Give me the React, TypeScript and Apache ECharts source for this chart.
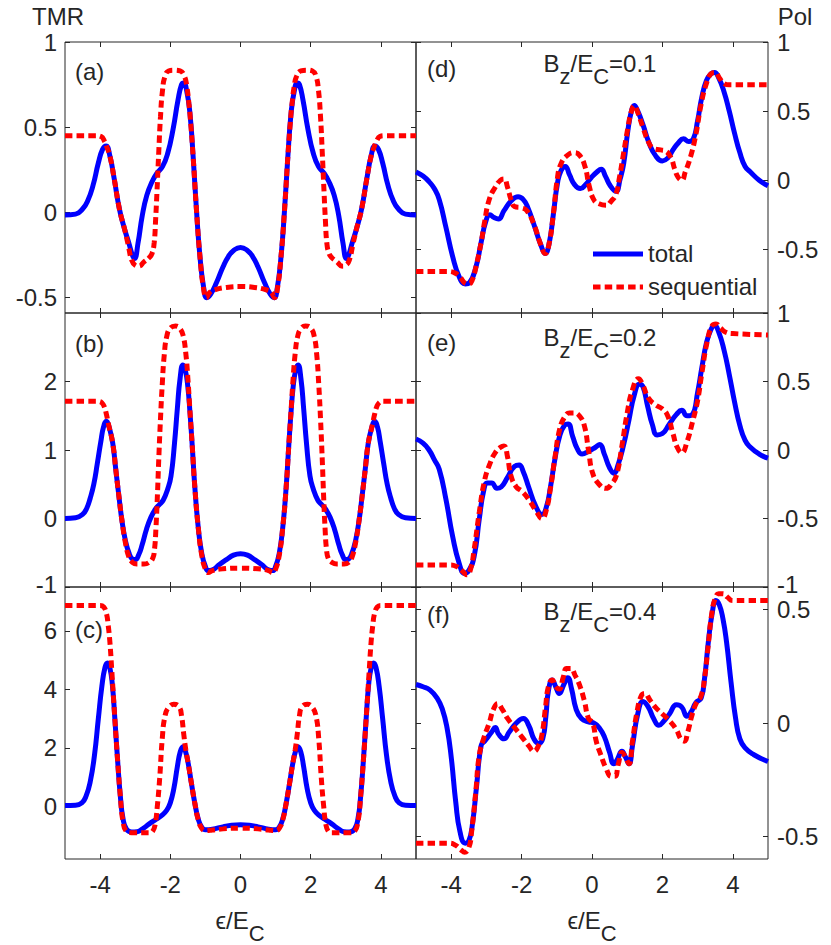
import React, { useEffect, useRef } from 'react';
import * as echarts from 'echarts';

type Pt = [number, number];

const X_TICKS = [-4, -2, 0, 2, 4];
const Y_TICKS_A = [-0.5, 0, 0.5, 1];
const Y_TICKS_B = [-1, 0, 1, 2];
const Y_TICKS_C = [0, 2, 4, 6];
const Y_TICKS_D = [-0.5, 0, 0.5, 1];
const Y_TICKS_E = [-1, -0.5, 0, 0.5, 1];
const Y_TICKS_F = [-0.5, 0, 0.5];

const PANEL_LETTERS = ['(a)', '(b)', '(c)', '(d)', '(e)', '(f)'];
const FIELD_VALUES = ['0.1', '0.2', '0.4'];
const LEGEND_NAMES = ['total', 'sequential'];

const A_TOTAL: Pt[] = [[-5, -0.015], [-4.7, -0.01], [-4.5, 0.02], [-4.35, 0.07], [-4.2, 0.16], [-4.05, 0.29], [-3.93, 0.37], [-3.83, 0.39], [-3.72, 0.33], [-3.6, 0.2], [-3.45, 0.02], [-3.3, -0.1], [-3.18, -0.18], [-3.08, -0.25], [-3.02, -0.27], [-2.92, -0.18], [-2.8, -0.02], [-2.67, 0.1], [-2.52, 0.18], [-2.38, 0.23], [-2.22, 0.27], [-2.07, 0.35], [-1.92, 0.49], [-1.78, 0.66], [-1.68, 0.75], [-1.62, 0.76], [-1.53, 0.71], [-1.44, 0.58], [-1.35, 0.33], [-1.25, 0.0], [-1.15, -0.27], [-1.05, -0.44], [-0.96, -0.5], [-0.85, -0.48], [-0.68, -0.41], [-0.5, -0.32], [-0.35, -0.26], [-0.18, -0.22], [0, -0.205],
  [0.18, -0.22], [0.35, -0.26], [0.5, -0.32], [0.68, -0.41], [0.85, -0.48], [0.96, -0.5], [1.05, -0.44], [1.15, -0.27], [1.25, 0.0], [1.35, 0.33], [1.44, 0.58], [1.53, 0.71], [1.62, 0.76], [1.68, 0.75], [1.78, 0.66], [1.92, 0.49], [2.07, 0.35], [2.22, 0.27], [2.38, 0.23], [2.52, 0.18], [2.67, 0.1], [2.8, -0.02], [2.92, -0.18], [3.02, -0.27], [3.08, -0.25], [3.18, -0.18], [3.3, -0.1], [3.45, 0.02], [3.6, 0.2], [3.72, 0.33], [3.83, 0.39], [3.93, 0.37], [4.05, 0.29], [4.2, 0.16], [4.35, 0.07], [4.5, 0.02], [4.7, -0.01], [5, -0.015]];

const A_SEQ: Pt[] = [[-5, 0.45], [-4.1, 0.45], [-3.97, 0.445], [-3.88, 0.42], [-3.8, 0.38], [-3.72, 0.33], [-3.6, 0.2], [-3.45, 0.02], [-3.3, -0.1], [-3.2, -0.19], [-3.1, -0.28], [-3.0, -0.31], [-2.9, -0.315], [-2.75, -0.29], [-2.6, -0.265], [-2.52, -0.24], [-2.46, -0.18], [-2.42, -0.05], [-2.38, 0.12], [-2.33, 0.35], [-2.28, 0.56], [-2.22, 0.72], [-2.15, 0.8], [-2.05, 0.83], [-1.9, 0.835], [-1.72, 0.83], [-1.6, 0.8], [-1.53, 0.74], [-1.47, 0.64], [-1.44, 0.58], [-1.35, 0.33], [-1.25, 0.0], [-1.15, -0.27], [-1.05, -0.45], [-0.97, -0.5], [-0.88, -0.47], [-0.75, -0.455], [-0.4, -0.44], [0, -0.435],
  [0.4, -0.44], [0.75, -0.455], [0.88, -0.47], [0.97, -0.5], [1.05, -0.45], [1.15, -0.27], [1.25, 0.0], [1.35, 0.33], [1.44, 0.58], [1.47, 0.64], [1.53, 0.74], [1.6, 0.8], [1.72, 0.83], [1.9, 0.835], [2.05, 0.83], [2.15, 0.8], [2.22, 0.72], [2.28, 0.56], [2.33, 0.35], [2.38, 0.12], [2.42, -0.05], [2.46, -0.18], [2.52, -0.24], [2.6, -0.265], [2.75, -0.29], [2.9, -0.315], [3.0, -0.31], [3.1, -0.28], [3.2, -0.19], [3.3, -0.1], [3.45, 0.02], [3.6, 0.2], [3.72, 0.33], [3.8, 0.38], [3.88, 0.42], [3.97, 0.445], [4.1, 0.45], [5, 0.45]];

const B_TOTAL: Pt[] = [[-5, 0.0], [-4.7, 0.01], [-4.5, 0.06], [-4.38, 0.15], [-4.28, 0.3], [-4.18, 0.5], [-4.08, 0.8], [-3.98, 1.12], [-3.9, 1.34], [-3.82, 1.42], [-3.74, 1.33], [-3.64, 1.1], [-3.55, 0.7], [-3.47, 0.35], [-3.38, -0.02], [-3.28, -0.32], [-3.18, -0.5], [-3.08, -0.59], [-3.0, -0.6], [-2.9, -0.53], [-2.8, -0.38], [-2.68, -0.16], [-2.55, 0.02], [-2.42, 0.14], [-2.3, 0.21], [-2.2, 0.27], [-2.08, 0.42], [-1.98, 0.62], [-1.88, 1.1], [-1.8, 1.6], [-1.72, 2.05], [-1.64, 2.24], [-1.57, 2.16], [-1.5, 1.92], [-1.44, 1.55], [-1.38, 1.1], [-1.3, 0.45], [-1.2, -0.15], [-1.1, -0.52], [-1.0, -0.7], [-0.92, -0.76], [-0.8, -0.75], [-0.6, -0.67], [-0.4, -0.6], [-0.2, -0.535], [0, -0.515],
  [0.2, -0.535], [0.4, -0.6], [0.6, -0.67], [0.8, -0.75], [0.92, -0.76], [1.0, -0.7], [1.1, -0.52], [1.2, -0.15], [1.3, 0.45], [1.38, 1.1], [1.44, 1.55], [1.5, 1.92], [1.57, 2.16], [1.64, 2.24], [1.72, 2.05], [1.8, 1.6], [1.88, 1.1], [1.98, 0.62], [2.08, 0.42], [2.2, 0.27], [2.3, 0.21], [2.42, 0.14], [2.55, 0.02], [2.68, -0.16], [2.8, -0.38], [2.9, -0.53], [3.0, -0.6], [3.08, -0.59], [3.18, -0.5], [3.28, -0.32], [3.38, -0.02], [3.47, 0.35], [3.55, 0.7], [3.64, 1.1], [3.74, 1.33], [3.82, 1.42], [3.9, 1.34], [3.98, 1.12], [4.08, 0.8], [4.18, 0.5], [4.28, 0.3], [4.38, 0.15], [4.5, 0.06], [4.7, 0.01], [5, 0.0]];

const B_SEQ: Pt[] = [[-5, 1.71], [-4.05, 1.71], [-3.95, 1.69], [-3.88, 1.63], [-3.82, 1.52], [-3.77, 1.4], [-3.74, 1.33], [-3.64, 1.1], [-3.55, 0.7], [-3.47, 0.35], [-3.38, -0.02], [-3.28, -0.35], [-3.18, -0.56], [-3.08, -0.64], [-2.95, -0.665], [-2.75, -0.665], [-2.6, -0.64], [-2.5, -0.58], [-2.45, -0.45], [-2.41, -0.15], [-2.37, 0.3], [-2.33, 0.85], [-2.28, 1.45], [-2.23, 1.95], [-2.17, 2.4], [-2.1, 2.66], [-2.0, 2.78], [-1.85, 2.81], [-1.72, 2.77], [-1.63, 2.66], [-1.56, 2.42], [-1.5, 2.05], [-1.45, 1.65], [-1.38, 1.1], [-1.3, 0.45], [-1.2, -0.15], [-1.1, -0.55], [-1.0, -0.74], [-0.92, -0.79], [-0.8, -0.76], [-0.5, -0.735], [0, -0.725],
  [0.5, -0.735], [0.8, -0.76], [0.92, -0.79], [1.0, -0.74], [1.1, -0.55], [1.2, -0.15], [1.3, 0.45], [1.38, 1.1], [1.45, 1.65], [1.5, 2.05], [1.56, 2.42], [1.63, 2.66], [1.72, 2.77], [1.85, 2.81], [2.0, 2.78], [2.1, 2.66], [2.17, 2.4], [2.23, 1.95], [2.28, 1.45], [2.33, 0.85], [2.37, 0.3], [2.41, -0.15], [2.45, -0.45], [2.5, -0.58], [2.6, -0.64], [2.75, -0.665], [2.95, -0.665], [3.08, -0.64], [3.18, -0.56], [3.28, -0.35], [3.38, -0.02], [3.47, 0.35], [3.55, 0.7], [3.64, 1.1], [3.74, 1.33], [3.77, 1.4], [3.82, 1.52], [3.88, 1.63], [3.95, 1.69], [4.05, 1.71], [5, 1.71]];

const C_TOTAL: Pt[] = [[-5, 0.03], [-4.7, 0.04], [-4.52, 0.12], [-4.4, 0.35], [-4.28, 0.85], [-4.16, 1.75], [-4.05, 3.0], [-3.95, 4.1], [-3.86, 4.75], [-3.79, 4.9], [-3.72, 4.72], [-3.65, 4.15], [-3.58, 3.0], [-3.5, 1.55], [-3.42, 0.3], [-3.35, -0.4], [-3.25, -0.78], [-3.1, -0.88], [-2.95, -0.87], [-2.8, -0.78], [-2.6, -0.6], [-2.4, -0.44], [-2.25, -0.32], [-2.1, -0.13], [-2.0, 0.12], [-1.9, 0.6], [-1.8, 1.35], [-1.72, 1.85], [-1.64, 2.04], [-1.56, 1.85], [-1.48, 1.4], [-1.4, 0.8], [-1.3, 0.1], [-1.2, -0.45], [-1.1, -0.72], [-1.0, -0.8], [-0.8, -0.78], [-0.5, -0.7], [-0.25, -0.645], [0, -0.63],
  [0.25, -0.645], [0.5, -0.7], [0.8, -0.78], [1.0, -0.8], [1.1, -0.72], [1.2, -0.45], [1.3, 0.1], [1.4, 0.8], [1.48, 1.4], [1.56, 1.85], [1.64, 2.04], [1.72, 1.85], [1.8, 1.35], [1.9, 0.6], [2.0, 0.12], [2.1, -0.13], [2.25, -0.32], [2.4, -0.44], [2.6, -0.6], [2.8, -0.78], [2.95, -0.87], [3.1, -0.88], [3.25, -0.78], [3.35, -0.4], [3.42, 0.3], [3.5, 1.55], [3.58, 3.0], [3.65, 4.15], [3.72, 4.72], [3.79, 4.9], [3.86, 4.75], [3.95, 4.1], [4.05, 3.0], [4.16, 1.75], [4.28, 0.85], [4.4, 0.35], [4.52, 0.12], [4.7, 0.04], [5, 0.03]];

const C_SEQ: Pt[] = [[-5, 6.87], [-4.0, 6.87], [-3.9, 6.82], [-3.82, 6.6], [-3.77, 6.2], [-3.72, 5.6], [-3.67, 4.7], [-3.62, 3.75], [-3.58, 3.0], [-3.5, 1.55], [-3.42, 0.3], [-3.35, -0.5], [-3.25, -0.85], [-3.1, -0.9], [-2.6, -0.9], [-2.5, -0.85], [-2.43, -0.6], [-2.37, 0.0], [-2.3, 1.0], [-2.23, 2.3], [-2.15, 3.1], [-2.05, 3.38], [-1.9, 3.49], [-1.75, 3.4], [-1.68, 3.1], [-1.62, 2.5], [-1.56, 1.95], [-1.48, 1.4], [-1.4, 0.8], [-1.3, 0.1], [-1.2, -0.48], [-1.1, -0.76], [-1.0, -0.83], [-0.8, -0.81], [-0.5, -0.77], [0, -0.745],
  [0.5, -0.77], [0.8, -0.81], [1.0, -0.83], [1.1, -0.76], [1.2, -0.48], [1.3, 0.1], [1.4, 0.8], [1.48, 1.4], [1.56, 1.95], [1.62, 2.5], [1.68, 3.1], [1.75, 3.4], [1.9, 3.49], [2.05, 3.38], [2.15, 3.1], [2.23, 2.3], [2.3, 1.0], [2.37, 0.0], [2.43, -0.6], [2.5, -0.85], [2.6, -0.9], [3.1, -0.9], [3.25, -0.85], [3.35, -0.5], [3.42, 0.3], [3.5, 1.55], [3.58, 3.0], [3.62, 3.75], [3.67, 4.7], [3.72, 5.6], [3.77, 6.2], [3.82, 6.6], [3.9, 6.82], [4.0, 6.87], [5, 6.87]];

const D_TOTAL: Pt[] = [[-5, 0.06], [-4.8, 0.03], [-4.63, -0.01], [-4.48, -0.06], [-4.34, -0.14], [-4.15, -0.34], [-3.96, -0.55], [-3.77, -0.7], [-3.6, -0.75], [-3.48, -0.74], [-3.3, -0.63], [-3.15, -0.45], [-3.02, -0.3], [-2.9, -0.25], [-2.78, -0.27], [-2.66, -0.28], [-2.5, -0.22], [-2.3, -0.15], [-2.1, -0.12], [-1.95, -0.14], [-1.82, -0.2], [-1.65, -0.32], [-1.45, -0.47], [-1.33, -0.53], [-1.22, -0.46], [-1.1, -0.25], [-0.98, -0.02], [-0.88, 0.07], [-0.76, 0.1], [-0.64, 0.04], [-0.5, -0.03], [-0.33, -0.06], [-0.18, -0.03], [-0.02, 0.02], [0.14, 0.06], [0.26, 0.08], [0.38, 0.03], [0.52, -0.04], [0.68, -0.08], [0.8, 0.01], [0.9, 0.12], [1.02, 0.36], [1.12, 0.5], [1.2, 0.54], [1.3, 0.5], [1.45, 0.4], [1.62, 0.27], [1.8, 0.18], [2.0, 0.14], [2.15, 0.16], [2.3, 0.22], [2.45, 0.27], [2.6, 0.3], [2.75, 0.28], [2.88, 0.3], [3.0, 0.43], [3.12, 0.6], [3.25, 0.72], [3.38, 0.77], [3.48, 0.78], [3.6, 0.74], [3.75, 0.64], [3.9, 0.5], [4.05, 0.34], [4.2, 0.2], [4.35, 0.1], [4.5, 0.06], [4.75, 0.0], [5, -0.04]];

const D_SEQ: Pt[] = [[-5, -0.66], [-4.1, -0.66], [-3.9, -0.67], [-3.75, -0.7], [-3.6, -0.745], [-3.5, -0.75], [-3.4, -0.72], [-3.3, -0.63], [-3.15, -0.45], [-3.05, -0.3], [-2.92, -0.14], [-2.75, -0.05], [-2.6, 0.0], [-2.5, 0.01], [-2.4, -0.05], [-2.3, -0.14], [-2.2, -0.19], [-2.0, -0.2], [-1.85, -0.22], [-1.65, -0.32], [-1.45, -0.47], [-1.33, -0.53], [-1.22, -0.46], [-1.1, -0.25], [-0.98, 0.02], [-0.88, 0.12], [-0.7, 0.18], [-0.5, 0.2], [-0.35, 0.18], [-0.2, 0.1], [-0.08, -0.04], [0.05, -0.14], [0.2, -0.17], [0.4, -0.18], [0.55, -0.15], [0.68, -0.1], [0.78, 0.02], [0.9, 0.2], [1.02, 0.38], [1.12, 0.5], [1.2, 0.54], [1.3, 0.49], [1.45, 0.38], [1.6, 0.28], [1.75, 0.23], [1.95, 0.22], [2.1, 0.21], [2.25, 0.16], [2.35, 0.08], [2.45, 0.02], [2.55, 0.0], [2.65, 0.06], [2.8, 0.17], [2.95, 0.33], [3.1, 0.55], [3.25, 0.7], [3.38, 0.77], [3.5, 0.78], [3.62, 0.74], [3.75, 0.7], [3.9, 0.69], [5, 0.69]];

const E_TOTAL: Pt[] = [[-5, 0.08], [-4.8, 0.05], [-4.63, 0.0], [-4.48, -0.07], [-4.34, -0.14], [-4.15, -0.36], [-3.96, -0.63], [-3.77, -0.83], [-3.62, -0.9], [-3.5, -0.88], [-3.35, -0.78], [-3.2, -0.5], [-3.08, -0.3], [-2.97, -0.24], [-2.85, -0.24], [-2.7, -0.28], [-2.58, -0.27], [-2.4, -0.2], [-2.2, -0.12], [-2.07, -0.11], [-1.95, -0.16], [-1.8, -0.27], [-1.6, -0.41], [-1.42, -0.47], [-1.3, -0.42], [-1.18, -0.27], [-1.05, -0.06], [-0.92, 0.1], [-0.78, 0.18], [-0.68, 0.19], [-0.55, 0.1], [-0.42, 0.01], [-0.28, -0.03], [-0.1, -0.01], [0.1, 0.02], [0.22, 0.04], [0.35, -0.03], [0.5, -0.13], [0.62, -0.17], [0.75, -0.1], [0.9, 0.04], [1.05, 0.22], [1.2, 0.4], [1.35, 0.48], [1.45, 0.46], [1.58, 0.32], [1.72, 0.18], [1.85, 0.11], [2.0, 0.12], [2.2, 0.19], [2.4, 0.26], [2.55, 0.29], [2.7, 0.25], [2.85, 0.26], [3.0, 0.42], [3.12, 0.6], [3.25, 0.78], [3.38, 0.88], [3.48, 0.91], [3.6, 0.86], [3.75, 0.73], [3.9, 0.55], [4.05, 0.35], [4.2, 0.18], [4.35, 0.07], [4.5, 0.02], [4.75, -0.03], [5, -0.06]];

const E_SEQ: Pt[] = [[-5, -0.84], [-4.05, -0.84], [-3.85, -0.85], [-3.7, -0.88], [-3.55, -0.91], [-3.45, -0.87], [-3.35, -0.73], [-3.2, -0.45], [-3.05, -0.22], [-2.9, -0.1], [-2.75, -0.02], [-2.6, 0.02], [-2.5, 0.03], [-2.4, -0.05], [-2.3, -0.19], [-2.15, -0.27], [-2.0, -0.3], [-1.8, -0.36], [-1.6, -0.44], [-1.42, -0.5], [-1.3, -0.44], [-1.18, -0.28], [-1.05, -0.05], [-0.92, 0.15], [-0.78, 0.24], [-0.64, 0.27], [-0.5, 0.27], [-0.36, 0.25], [-0.22, 0.18], [-0.1, 0.0], [0.02, -0.17], [0.2, -0.25], [0.4, -0.28], [0.55, -0.25], [0.7, -0.18], [0.85, 0.03], [1.0, 0.27], [1.15, 0.44], [1.32, 0.52], [1.45, 0.47], [1.6, 0.38], [1.8, 0.33], [2.0, 0.3], [2.15, 0.25], [2.3, 0.12], [2.42, 0.02], [2.55, -0.02], [2.7, 0.06], [2.85, 0.2], [3.0, 0.36], [3.12, 0.56], [3.28, 0.8], [3.42, 0.91], [3.52, 0.92], [3.65, 0.89], [3.8, 0.86], [4.0, 0.85], [5, 0.84]];

const F_TOTAL: Pt[] = [[-5, 0.17], [-4.8, 0.16], [-4.6, 0.145], [-4.4, 0.11], [-4.25, 0.06], [-4.12, -0.02], [-4.0, -0.15], [-3.87, -0.35], [-3.75, -0.48], [-3.6, -0.53], [-3.5, -0.52], [-3.4, -0.45], [-3.28, -0.28], [-3.15, -0.1], [-3.05, -0.08], [-2.95, -0.06], [-2.85, -0.04], [-2.75, -0.02], [-2.65, -0.05], [-2.5, -0.07], [-2.35, -0.04], [-2.15, 0.0], [-1.95, 0.02], [-1.8, -0.01], [-1.65, -0.07], [-1.52, -0.09], [-1.4, -0.07], [-1.31, 0.03], [-1.24, 0.14], [-1.13, 0.19], [-1.03, 0.16], [-0.93, 0.13], [-0.8, 0.17], [-0.69, 0.2], [-0.58, 0.15], [-0.45, 0.06], [-0.3, 0.02], [-0.1, 0.005], [0.05, 0.0], [0.2, -0.02], [0.35, -0.06], [0.5, -0.13], [0.62, -0.18], [0.72, -0.16], [0.85, -0.125], [0.95, -0.15], [1.05, -0.18], [1.15, -0.1], [1.3, 0.04], [1.45, 0.095], [1.6, 0.07], [1.75, 0.02], [1.9, -0.01], [2.05, 0.01], [2.2, 0.04], [2.4, 0.08], [2.55, 0.07], [2.7, 0.03], [2.82, 0.05], [2.95, 0.09], [3.1, 0.11], [3.2, 0.2], [3.3, 0.35], [3.42, 0.49], [3.52, 0.54], [3.62, 0.52], [3.72, 0.46], [3.82, 0.36], [3.95, 0.18], [4.08, 0.02], [4.2, -0.07], [4.35, -0.11], [4.6, -0.14], [5, -0.17]];

const F_SEQ: Pt[] = [[-5, -0.53], [-4.05, -0.53], [-3.87, -0.54], [-3.72, -0.56], [-3.62, -0.57], [-3.5, -0.55], [-3.42, -0.48], [-3.3, -0.3], [-3.2, -0.14], [-3.06, -0.06], [-2.92, 0.0], [-2.8, 0.06], [-2.68, 0.085], [-2.55, 0.06], [-2.4, 0.02], [-2.2, -0.02], [-2.0, -0.06], [-1.8, -0.1], [-1.65, -0.125], [-1.52, -0.1], [-1.42, -0.05], [-1.32, 0.07], [-1.24, 0.16], [-1.13, 0.19], [-1.03, 0.16], [-0.93, 0.15], [-0.82, 0.2], [-0.72, 0.24], [-0.6, 0.24], [-0.48, 0.21], [-0.36, 0.17], [-0.22, 0.1], [-0.1, 0.02], [0.02, 0.0], [0.12, -0.08], [0.25, -0.14], [0.4, -0.2], [0.55, -0.235], [0.65, -0.235], [0.75, -0.18], [0.85, -0.13], [0.95, -0.15], [1.05, -0.18], [1.15, -0.08], [1.28, 0.05], [1.4, 0.12], [1.5, 0.13], [1.65, 0.1], [1.8, 0.07], [2.0, 0.04], [2.2, 0.01], [2.4, -0.03], [2.52, -0.07], [2.62, -0.08], [2.72, -0.04], [2.85, 0.04], [2.97, 0.09], [3.1, 0.12], [3.2, 0.2], [3.3, 0.34], [3.4, 0.48], [3.5, 0.55], [3.6, 0.57], [3.72, 0.57], [3.85, 0.555], [4.0, 0.54], [5, 0.54]];

const FONT = "'Liberation Sans', Arial, Helvetica, sans-serif";
const INK = '#262626';
const BLUE = '#0000ff';
const RED = '#ff0000';
const FS = 24;

const LEFT_X = 65;
const RIGHT_X = 416;
const COL_W = [351, 352];
const ROW_TOP = [42, 313, 587];
const ROW_H = [271, 274, 272];

type Panel = {
  col: number;
  row: number;
  min: number;
  max: number;
  ticks: number[];
  total: Pt[];
  seq: Pt[];
};

const PANELS: Panel[] = [
  { col: 0, row: 0, min: -0.59, max: 1, ticks: Y_TICKS_A, total: A_TOTAL, seq: A_SEQ },
  { col: 0, row: 1, min: -1, max: 3, ticks: Y_TICKS_B, total: B_TOTAL, seq: B_SEQ },
  { col: 0, row: 2, min: -1.8, max: 7.5, ticks: Y_TICKS_C, total: C_TOTAL, seq: C_SEQ },
  { col: 1, row: 0, min: -0.96, max: 1, ticks: Y_TICKS_D, total: D_TOTAL, seq: D_SEQ },
  { col: 1, row: 1, min: -1, max: 1, ticks: Y_TICKS_E, total: E_TOTAL, seq: E_SEQ },
  { col: 1, row: 2, min: -0.6, max: 0.6, ticks: Y_TICKS_F, total: F_TOTAL, seq: F_SEQ },
];

const textEl = (text: string, x: number, y: number, align: string, extra: any = {}) => ({
  type: 'text',
  x,
  y,
  silent: true,
  style: {
    text,
    fill: INK,
    fontSize: FS,
    fontFamily: FONT,
    align,
    verticalAlign: 'middle',
    textAlign: align,
    textVerticalAlign: 'middle',
    ...extra,
  },
});

const richSub = {
  m: { fontSize: FS, fontFamily: FONT, fill: INK, lineHeight: 28 },
  s: { fontSize: 22, fontFamily: FONT, fill: INK, lineHeight: 28, padding: [26, 0, 0, 0] },
};

export default function App() {
  const ref = useRef<HTMLDivElement>(null);

  useEffect(() => {
    if (!ref.current) return;
    const chart = echarts.init(ref.current, null, { renderer: 'svg' });

    const grid: any[] = [];
    const xAxis: any[] = [];
    const yAxis: any[] = [];
    const series: any[] = [];
    const tickStyle = { show: true, inside: true, length: 5, lineStyle: { color: INK, width: 1 } };
    const labelStyle = { color: INK, fontSize: FS, fontFamily: FONT, lineHeight: 20 };
    const noLine = { show: false, onZero: false };
    // bottom label of a stacked panel sits a little higher so it clears the next panel's top label
    const edgeRich = { up: { color: INK, fontSize: FS, fontFamily: FONT, lineHeight: 20, padding: [0, 0, 5, 0] } };

    PANELS.forEach((p, i) => {
      const left = p.col === 0 ? LEFT_X : RIGHT_X;
      grid.push({
        left,
        top: ROW_TOP[p.row],
        width: COL_W[p.col],
        height: ROW_H[p.row],
        show: true,
        borderColor: INK,
        borderWidth: 1,
        backgroundColor: 'transparent',
        containLabel: false,
      });
      const bottomRow = p.row === 2;
      xAxis.push({
        type: 'value', gridIndex: i, min: -5, max: 5, position: 'bottom',
        axisLine: noLine,
        axisTick: { ...tickStyle, customValues: X_TICKS },
        axisLabel: { ...labelStyle, show: bottomRow, margin: 15, customValues: X_TICKS },
        splitLine: { show: false },
      });
      xAxis.push({
        type: 'value', gridIndex: i, min: -5, max: 5, position: 'top',
        axisLine: noLine,
        axisTick: { ...tickStyle, customValues: X_TICKS },
        axisLabel: { show: false },
        splitLine: { show: false },
      });
      const mainSide = p.col === 0 ? 'left' : 'right';
      const otherSide = p.col === 0 ? 'right' : 'left';
      const lowEdge = p.row < 2 ? p.min : NaN;
      yAxis.push({
        type: 'value', gridIndex: i, min: p.min, max: p.max, position: mainSide,
        axisLine: noLine,
        axisTick: { ...tickStyle, customValues: p.ticks },
        axisLabel: {
          ...labelStyle,
          margin: p.col === 0 ? 8 : 9,
          customValues: p.ticks,
          formatter: (v: number) => (v === lowEdge ? `{up|${v}}` : `${v}`),
          rich: edgeRich,
        },
        splitLine: { show: false },
      });
      yAxis.push({
        type: 'value', gridIndex: i, min: p.min, max: p.max, position: otherSide,
        axisLine: noLine,
        axisTick: { ...tickStyle, customValues: p.ticks },
        axisLabel: { show: false },
        splitLine: { show: false },
      });
      series.push({
        type: 'line', name: LEGEND_NAMES[0], xAxisIndex: 2 * i, yAxisIndex: 2 * i,
        data: p.total, showSymbol: false, smooth: 0.5,
        lineStyle: { color: BLUE, width: 5 }, silent: true,
      });
      series.push({
        type: 'line', name: LEGEND_NAMES[1], xAxisIndex: 2 * i, yAxisIndex: 2 * i,
        data: p.seq, showSymbol: false, smooth: 0.5,
        lineStyle: { color: RED, width: 5, type: [7.5, 4.2] }, silent: true,
      });
    });

    const letterPos: [number, number][] = [[75, 71], [75, 343], [75, 629], [427, 68], [427, 342], [427, 614]];
    const fieldY = [63, 337, 611];

    const graphic: any[] = [
      textEl('TMR', 58, 16, 'center'),
      textEl('Pol', 795, 16, 'center'),
      ...PANEL_LETTERS.map((t, i) => textEl(t, letterPos[i][0], letterPos[i][1], 'left')),
      ...FIELD_VALUES.map((v, i) =>
        textEl(`{m|B}{s|z}{m|/E}{s|C}{m|=${v}}`, 600, fieldY[i], 'center', { rich: richSub })
      ),
      textEl('{m|\u03f5/E}{s|C}', 240, 920, 'center', { rich: richSub }),
      textEl('{m|\u03f5/E}{s|C}', 592, 920, 'center', { rich: richSub }),
      { type: 'line', silent: true, shape: { x1: 593, y1: 254, x2: 643, y2: 254 }, style: { stroke: BLUE, lineWidth: 5 } },
      { type: 'line', silent: true, shape: { x1: 593, y1: 287, x2: 643, y2: 287 }, style: { stroke: RED, lineWidth: 5, lineDash: [7.5, 4.2] } },
      textEl(LEGEND_NAMES[0], 648, 253, 'left'),
      textEl(LEGEND_NAMES[1], 648, 286, 'left'),
    ];

    chart.setOption({
      animation: false,
      backgroundColor: '#ffffff',
      grid,
      xAxis,
      yAxis,
      series,
      graphic,
    });

    return () => chart.dispose();
  }, []);

  return (
    <div
      ref={ref}
      style={{ position: 'absolute', left: 0, top: 0, width: 831, height: 945, background: '#ffffff' }}
    />
  );
}
